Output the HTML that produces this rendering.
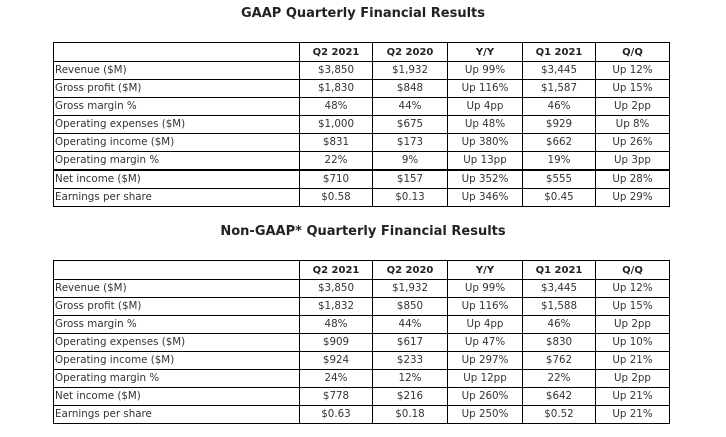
<!DOCTYPE html>
<html><head><style>
html,body{margin:0;padding:0;background:#fff;width:726px;height:437px;overflow:hidden;font-family:"DejaVu Sans","Liberation Sans",sans-serif;color:#333}
.t{position:absolute;left:0;width:726px;text-align:center;font-weight:bold;font-size:13px;color:#222}
table{position:absolute;left:53px;border-collapse:collapse;table-layout:fixed;font-size:10.3px}
td{border:1px solid #000;height:17px;padding:0;text-align:center;line-height:17px;white-space:nowrap;overflow:hidden}
td:first-child{text-align:left;padding-left:1px}
tr.h td{font-weight:bold;height:18px;color:#222;font-size:10px}
tr.k td{border-top:2px solid #000}
table{border:1.5px solid #000}
</style></head><body>
<div class="t" style="top:6px">GAAP Quarterly Financial Results</div>
<table style="top:42px;width:616px">
<colgroup><col style="width:246px"><col style="width:73px"><col style="width:75px"><col style="width:75px"><col style="width:73px"><col style="width:74px"></colgroup>
<tr class="h"><td></td><td>Q2 2021</td><td>Q2 2020</td><td>Y/Y</td><td>Q1 2021</td><td>Q/Q</td></tr>
<tr><td>Revenue ($M)</td><td>$3,850</td><td>$1,932</td><td>Up 99%</td><td>$3,445</td><td>Up 12%</td></tr>
<tr><td>Gross profit ($M)</td><td>$1,830</td><td>$848</td><td>Up 116%</td><td>$1,587</td><td>Up 15%</td></tr>
<tr><td>Gross margin %</td><td>48%</td><td>44%</td><td>Up 4pp</td><td>46%</td><td>Up 2pp</td></tr>
<tr><td>Operating expenses ($M)</td><td>$1,000</td><td>$675</td><td>Up 48%</td><td>$929</td><td>Up 8%</td></tr>
<tr><td>Operating income ($M)</td><td>$831</td><td>$173</td><td>Up 380%</td><td>$662</td><td>Up 26%</td></tr>
<tr><td>Operating margin %</td><td>22%</td><td>9%</td><td>Up 13pp</td><td>19%</td><td>Up 3pp</td></tr>
<tr class="k"><td>Net income ($M)</td><td>$710</td><td>$157</td><td>Up 352%</td><td>$555</td><td>Up 28%</td></tr>
<tr><td>Earnings per share</td><td>$0.58</td><td>$0.13</td><td>Up 346%</td><td>$0.45</td><td>Up 29%</td></tr>
</table>
<div class="t" style="top:224px">Non-GAAP* Quarterly Financial Results</div>
<table style="top:260px;width:616px">
<colgroup><col style="width:246px"><col style="width:73px"><col style="width:75px"><col style="width:75px"><col style="width:73px"><col style="width:74px"></colgroup>
<tr class="h"><td></td><td>Q2 2021</td><td>Q2 2020</td><td>Y/Y</td><td>Q1 2021</td><td>Q/Q</td></tr>
<tr><td>Revenue ($M)</td><td>$3,850</td><td>$1,932</td><td>Up 99%</td><td>$3,445</td><td>Up 12%</td></tr>
<tr><td>Gross profit ($M)</td><td>$1,832</td><td>$850</td><td>Up 116%</td><td>$1,588</td><td>Up 15%</td></tr>
<tr><td>Gross margin %</td><td>48%</td><td>44%</td><td>Up 4pp</td><td>46%</td><td>Up 2pp</td></tr>
<tr><td>Operating expenses ($M)</td><td>$909</td><td>$617</td><td>Up 47%</td><td>$830</td><td>Up 10%</td></tr>
<tr><td>Operating income ($M)</td><td>$924</td><td>$233</td><td>Up 297%</td><td>$762</td><td>Up 21%</td></tr>
<tr><td>Operating margin %</td><td>24%</td><td>12%</td><td>Up 12pp</td><td>22%</td><td>Up 2pp</td></tr>
<tr><td>Net income ($M)</td><td>$778</td><td>$216</td><td>Up 260%</td><td>$642</td><td>Up 21%</td></tr>
<tr><td>Earnings per share</td><td>$0.63</td><td>$0.18</td><td>Up 250%</td><td>$0.52</td><td>Up 21%</td></tr>
</table>
</body></html>
